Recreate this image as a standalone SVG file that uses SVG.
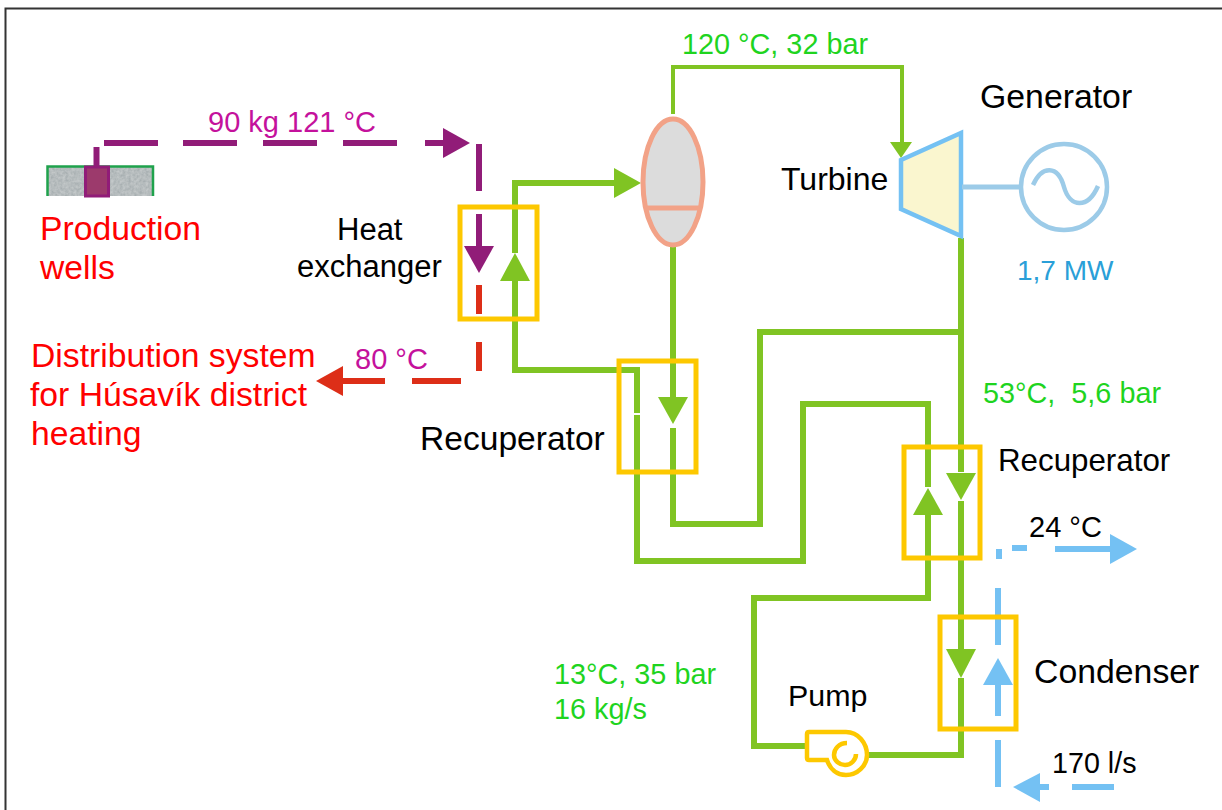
<svg xmlns="http://www.w3.org/2000/svg" width="1222" height="810" viewBox="0 0 1222 810">
<style>
text{font-family:"Liberation Sans",Arial,sans-serif;white-space:pre}
.k{fill:#000}.r{fill:#ff0000;font-size:33.700px}.g{fill:#1fd41f;font-size:28.800px}.m{fill:#c4119c;font-size:29px}.b{fill:#2a9fd8;font-size:28px}
.l{fill:none;stroke-linejoin:miter}
.gr{stroke:#80c423;stroke-width:6}
.gt{stroke:#80c423;stroke-width:4}
.pu{stroke:#911c78;stroke-width:6}
.re{stroke:#dd2e18;stroke-width:6}
.bl{stroke:#74c1f3;stroke-width:6}
.y{fill:none;stroke:#fdc800;stroke-width:5}
</style>
<defs>
<filter id="grain" x="0" y="0" width="100%" height="100%">
<feTurbulence type="fractalNoise" baseFrequency="0.35" numOctaves="2" seed="4"/>
<feColorMatrix type="matrix" values="0 0 0 0 0.7  0 0 0 0 0.73  0 0 0 0 0.74  1.6 0 0 0 -0.3"/>
<feComposite in2="SourceGraphic" operator="in"/>
<feBlend in2="SourceGraphic" mode="multiply"/>
</filter>
</defs>
<rect x="0" y="0" width="1222" height="810" fill="#fff"/>
<path d="M5.500 810V8.500H1222" fill="none" stroke="#333" stroke-width="2"/>
<g id="wells">
<rect x="47" y="166" width="106" height="30" fill="#c4c9ca" filter="url(#grain)"/>
<path d="M47.500 196V166.500H153V196" fill="none" stroke="#1fa24c" stroke-width="2.500"/>
<rect x="85.500" y="167" width="23" height="29" fill="#9c3a6c" stroke="#911c78" stroke-width="3"/>
<path d="M96.500 147V166" stroke="#911c78" stroke-width="6" fill="none"/>
</g>
<g id="connectors">
<path class="l pu" d="M104 143H158M183 143H237M263 143H317M343 143H397M425 143H444"/>
<polygon points="470,143 443,128 443,158" fill="#911c78"/>
<path class="l pu" d="M479 144V191M479 214V248"/>
<polygon points="479,273 464,246 494,246" fill="#911c78"/>
<path class="l re" d="M479 285V314M479 342V371M461 381H412M385 381H339"/>
<polygon points="316,381 343,366 343,396" fill="#dd2e18"/>
<path class="l gr" d="M515 253V183H616"/>
<polygon points="641,183 614,168 614,198" fill="#80c423"/>
<polygon points="515,253 500,281 530,281" fill="#80c423"/>
<path class="l gr" d="M515 281V370H637V413"/>
<path class="l gr" d="M637 415V561H803V404H928V487"/>
<polygon points="928,488 913,515 943,515" fill="#80c423"/>
<path class="l gr" d="M928 515V598H754V746H805"/>
<path class="l gr" d="M673 246V398"/>
<polygon points="673,424 658,397 688,397" fill="#80c423"/>
<path class="l gr" d="M673 428V524H760V332H961"/>
<path class="l gt" d="M673 114V67H902V146"/>
<polygon points="901,158 890,142 912,142" fill="#80c423"/>
<path class="l gr" d="M961 238V472"/>
<polygon points="961,500 946,473 976,473" fill="#80c423"/>
<path class="l gr" d="M961 501V650"/>
<polygon points="961,678 946,649 976,649" fill="#80c423"/>
<path class="l gr" d="M961 678V755H858"/>
<path class="l bl" d="M998 588V645"/>
<polygon points="998,658 983,685 1013,685" fill="#74c1f3"/>
<path class="l bl" d="M998 684V716M998 740V787"/>
<polygon points="1013,787 1040,773 1040,802" fill="#74c1f3"/>
<path class="l bl" d="M1040 787H1049M1072 787H1114"/>
<path class="l bl" d="M999 549V559M1012 548H1027M1055 549H1112"/>
<polygon points="1137,549 1110,534 1110,564" fill="#74c1f3"/>
</g>
<g id="heat-exchanger"><rect class="y" x="460" y="207" width="77" height="112"/></g>
<g id="recuperator-1"><rect class="y" x="619" y="361" width="77" height="111"/></g>
<g id="recuperator-2"><rect class="y" x="904" y="447" width="76" height="111"/></g>
<g id="condenser"><rect class="y" x="940" y="617" width="76" height="112"/></g>
<g id="separator">
<ellipse cx="673" cy="182" rx="30" ry="63" fill="#dcdcdc" stroke="#f2a287" stroke-width="5"/>
<path d="M645 208H701" stroke="#f2a287" stroke-width="5" fill="none"/>
</g>
<g id="turbine">
<polygon points="901,160 961,133 961,236 901,209" fill="#faf6cf" stroke="#74c1f3" stroke-width="4.500"/>
</g>
<g id="generator">
<path d="M962 187H1021" stroke="#9ccbe8" stroke-width="5" fill="none"/>
<circle cx="1064" cy="187" r="43" fill="#fff" stroke="#9ccbe8" stroke-width="4.500"/>
<path d="M1033 185C1042 165 1058 165 1064 187C1070 208 1088 209 1098 186" stroke="#9ccbe8" stroke-width="4.500" fill="none"/>
</g>
<g id="pump" fill="none" stroke="#fdc800" stroke-width="4.500">
<path d="M827 760H809Q807 760 807 758V734Q807 732 809 732H846C858 732 867 743 867 755C867 766 857 775 846 775C837 775 830 769 827 760Z" fill="#fff"/>
<path d="M847 743C839 743 834 749 834 755C834 761 840 765 845 765C851 765 856 760 856 754"/>
</g>
<g id="labels">
<text class="m" x="208" y="132">90 kg 121 °C</text>
<text class="m" x="355" y="369">80 °C</text>
<text class="r" x="40" y="240">Production</text>
<text class="r" x="40" y="279">wells</text>
<text class="r" x="31" y="367">Distribution system</text>
<text class="r" x="30" y="406">for Húsavík district</text>
<text class="r" x="31" y="445">heating</text>
<text class="k" x="337" y="240" style="font-size:31px">Heat</text>
<text class="k" x="297" y="277" style="font-size:31px">exchanger</text>
<text class="k" x="420" y="450" style="font-size:33.600px">Recuperator</text>
<text class="k" x="781" y="190" style="font-size:32px">Turbine</text>
<text class="k" x="980" y="108" style="font-size:33.800px">Generator</text>
<text class="b" x="1017" y="280">1,7 MW</text>
<text class="g" x="682" y="54">120 °C, 32 bar</text>
<text class="g" x="983" y="403">53°C,  5,6 bar</text>
<text class="k" x="998" y="471" style="font-size:31.300px">Recuperator</text>
<text class="k" x="1029" y="537" style="font-size:29px">24 °C</text>
<text class="k" x="1034" y="683" style="font-size:33.800px">Condenser</text>
<text class="k" x="788" y="706" style="font-size:30.400px">Pump</text>
<text class="g" x="554" y="684">13°C, 35 bar</text>
<text class="g" x="554" y="719">16 kg/s</text>
<text class="k" x="1052" y="773" style="font-size:28.700px">170 l/s</text>
</g>
</svg>
